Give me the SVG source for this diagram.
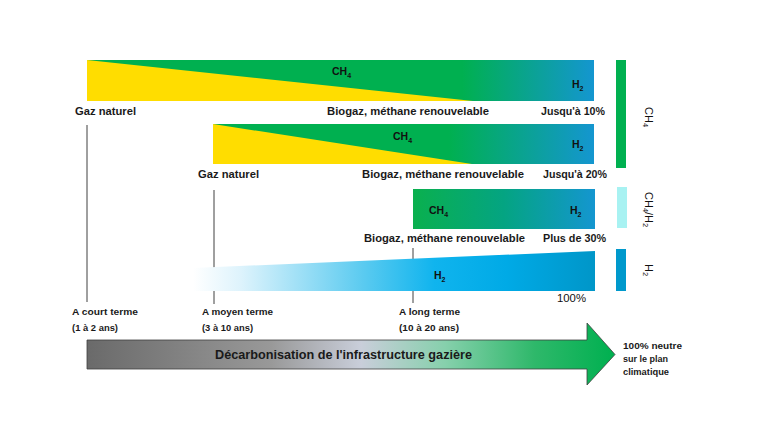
<svg xmlns="http://www.w3.org/2000/svg" width="760" height="440" viewBox="0 0 760 440">
  <defs>
    <linearGradient id="g1" gradientUnits="userSpaceOnUse" x1="87" y1="0" x2="594" y2="0">
      <stop offset="0" stop-color="#00B050"/>
      <stop offset="0.74" stop-color="#00B050"/>
      <stop offset="1" stop-color="#1496D0"/>
    </linearGradient>
    <linearGradient id="g2" gradientUnits="userSpaceOnUse" x1="213" y1="0" x2="594" y2="0">
      <stop offset="0" stop-color="#00B050"/>
      <stop offset="0.62" stop-color="#00B050"/>
      <stop offset="1" stop-color="#1496D0"/>
    </linearGradient>
    <linearGradient id="g3" gradientUnits="userSpaceOnUse" x1="413" y1="0" x2="595" y2="0">
      <stop offset="0" stop-color="#0AB04E"/>
      <stop offset="0.5" stop-color="#04A482"/>
      <stop offset="1" stop-color="#1496D0"/>
    </linearGradient>
    <linearGradient id="g4" gradientUnits="userSpaceOnUse" x1="193" y1="0" x2="595" y2="0">
      <stop offset="0" stop-color="#FFFFFF"/>
      <stop offset="0.12" stop-color="#DDF3FC"/>
      <stop offset="0.42" stop-color="#5CCBF0"/>
      <stop offset="0.6" stop-color="#10B4EE"/>
      <stop offset="0.78" stop-color="#00AAE6"/>
      <stop offset="1" stop-color="#0096C8"/>
    </linearGradient>
    <linearGradient id="ga" gradientUnits="userSpaceOnUse" x1="87" y1="0" x2="614" y2="0">
      <stop offset="0" stop-color="#6A6A6A"/>
      <stop offset="0.35" stop-color="#999999"/>
      <stop offset="0.52" stop-color="#C9CEDA"/>
      <stop offset="0.68" stop-color="#86D0AC"/>
      <stop offset="0.85" stop-color="#2EB86A"/>
      <stop offset="1" stop-color="#00B050"/>
    </linearGradient>
    <style>
      .lbl { font-family: "Liberation Sans", Arial, sans-serif; font-weight: bold; font-size: 10.5px; fill: #1a1a1a; }
      .sm { font-family: "Liberation Sans", Arial, sans-serif; font-weight: bold; font-size: 9px; fill: #1a1a1a; }
      .gas { font-family: "Liberation Sans", Arial, sans-serif; font-weight: bold; font-size: 10.5px; fill: #111; }
      .rot { font-family: "Liberation Sans", Arial, sans-serif; font-size: 11px; fill: #111; }
      .tick { stroke: #404040; stroke-width: 1; fill: none; }
    </style>
  </defs>
  <rect width="760" height="440" fill="#FFFFFF"/>

  <g id="connectors">
    <line class="tick" x1="87" y1="125" x2="87" y2="302"/>
    <line class="tick" x1="214" y1="190" x2="214" y2="304"/>
    <line class="tick" x1="413" y1="248" x2="413" y2="303"/>
  </g>

  <g id="bar1">
    <rect x="87" y="60" width="507" height="41" fill="url(#g1)"/>
    <polygon points="87,60 473,101 87,101" fill="#FFDD00"/>
    <text class="gas" x="332" y="75">CH<tspan dy="2.5" font-size="7">4</tspan></text>
    <text class="gas" x="572" y="88">H<tspan dy="2.5" font-size="7">2</tspan></text>
    <text class="lbl" x="75" y="115" textLength="61" lengthAdjust="spacingAndGlyphs">Gaz naturel</text>
    <text class="lbl" x="327" y="115" textLength="162" lengthAdjust="spacingAndGlyphs">Biogaz, méthane renouvelable</text>
    <text class="lbl" x="541" y="115" textLength="64" lengthAdjust="spacingAndGlyphs">Jusqu'à 10%</text>
  </g>

  <g id="bar2">
    <rect x="213" y="124" width="381" height="40" fill="url(#g2)"/>
    <polygon points="213,124 472,164 213,164" fill="#FFDD00"/>
    <text class="gas" x="393" y="140">CH<tspan dy="2.5" font-size="7">4</tspan></text>
    <text class="gas" x="572" y="148">H<tspan dy="2.5" font-size="7">2</tspan></text>
    <text class="lbl" x="198" y="178" textLength="61" lengthAdjust="spacingAndGlyphs">Gaz naturel</text>
    <text class="lbl" x="362" y="178" textLength="162" lengthAdjust="spacingAndGlyphs">Biogaz, méthane renouvelable</text>
    <text class="lbl" x="543" y="178" textLength="64" lengthAdjust="spacingAndGlyphs">Jusqu'à 20%</text>
  </g>

  <g id="bar3">
    <rect x="413" y="189" width="182" height="40" fill="url(#g3)"/>
    <text class="gas" x="429" y="214">CH<tspan dy="2.5" font-size="7">4</tspan></text>
    <text class="gas" x="570" y="214">H<tspan dy="2.5" font-size="7">2</tspan></text>
    <text class="lbl" x="364" y="242" textLength="161" lengthAdjust="spacingAndGlyphs">Biogaz, méthane renouvelable</text>
    <text class="lbl" x="543" y="242" textLength="63" lengthAdjust="spacingAndGlyphs">Plus de 30%</text>
  </g>

  <g id="bar4">
    <polygon points="193,268 595,251 595,291 193,291" fill="url(#g4)"/>
    <text class="gas" x="434" y="279">H<tspan dy="2.5" font-size="7">2</tspan></text>
    <text class="gas" x="557" y="302" font-weight="normal" textLength="29" lengthAdjust="spacingAndGlyphs" style="font-weight:normal">100%</text>
  </g>

  <g id="legend-ch4">
    <rect x="616" y="60" width="10" height="108" fill="#00B050"/>
    <text class="rot" transform="translate(645,107) rotate(90)">CH<tspan dy="2.5" font-size="7.5">4</tspan></text>
  </g>
  <g id="legend-mix">
    <rect x="617" y="187" width="10" height="41" fill="#A8F2F2"/>
    <text class="rot" transform="translate(645,192) rotate(90)">CH<tspan dy="2.5" font-size="7.5">4</tspan><tspan dy="-2.5">/H</tspan><tspan dy="2.5" font-size="7.5">2</tspan></text>
  </g>
  <g id="legend-h2">
    <rect x="616" y="249" width="10" height="42" fill="#0099CC"/>
    <text class="rot" transform="translate(645,264) rotate(90)">H<tspan dy="2.5" font-size="7.5">2</tspan></text>
  </g>

  <g id="timeline-labels">
    <text class="sm" x="72" y="315" textLength="66" lengthAdjust="spacingAndGlyphs">A court terme</text>
    <text class="sm" x="72" y="331" textLength="46" lengthAdjust="spacingAndGlyphs">(1 à 2 ans)</text>
    <text class="sm" x="202" y="315" textLength="71" lengthAdjust="spacingAndGlyphs">A moyen terme</text>
    <text class="sm" x="202" y="331" textLength="51" lengthAdjust="spacingAndGlyphs">(3 à 10 ans)</text>
    <text class="sm" x="399" y="315" textLength="61" lengthAdjust="spacingAndGlyphs">A long terme</text>
    <text class="sm" x="399" y="331" textLength="60" lengthAdjust="spacingAndGlyphs">(10 à 20 ans)</text>
  </g>

  <g id="arrow">
    <polygon points="87,340 587,340 587,323 615,354.5 587,385 587,369 87,369" fill="url(#ga)" stroke="#404040" stroke-width="0.8"/>
    <text class="lbl" x="215" y="359" textLength="257" lengthAdjust="spacingAndGlyphs" style="font-size:12px">Décarbonisation de l'infrastructure gazière</text>
  </g>

  <g id="goal">
    <text class="sm" x="623" y="349" textLength="59" lengthAdjust="spacingAndGlyphs">100% neutre</text>
    <text class="sm" x="623" y="362" textLength="45" lengthAdjust="spacingAndGlyphs">sur le plan</text>
    <text class="sm" x="623" y="375" textLength="46" lengthAdjust="spacingAndGlyphs">climatique</text>
  </g>
</svg>
